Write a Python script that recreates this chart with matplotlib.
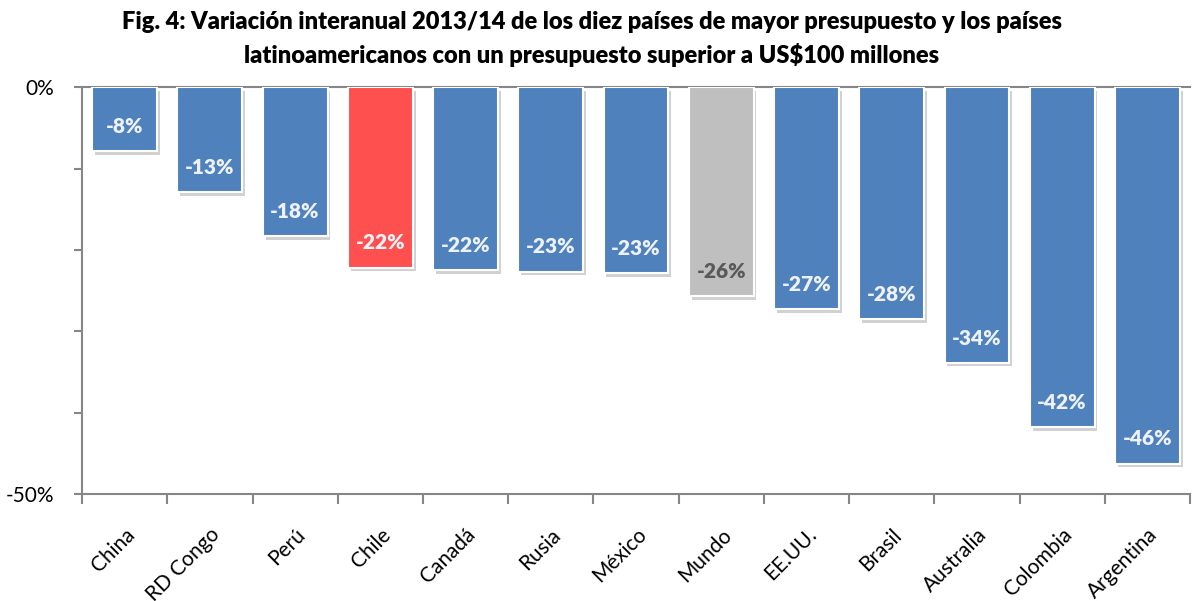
import matplotlib
matplotlib.use("Agg")
from matplotlib import pyplot as plt
import matplotlib.patheffects as pe

plt.rcParams["font.family"] = ["Lato", "DejaVu Sans"]

paises = ["China", "RD Congo", "Perú", "Chile", "Canadá", "Rusia", "México",
          "Mundo", "EE.UU.", "Brasil", "Australia", "Colombia", "Argentina"]
variacion = [-7.9, -12.9, -18.3, -22.2, -22.5, -22.7, -22.9,
             -25.7, -27.3, -28.5, -33.9, -41.8, -46.3]
etiquetas = ["-8%", "-13%", "-18%", "-22%", "-22%", "-23%", "-23%",
             "-26%", "-27%", "-28%", "-34%", "-42%", "-46%"]

colores = []
for p in paises:
    if p == "Chile":
        colores.append("#FF5050")
    elif p == "Mundo":
        colores.append("#BFBFBF")
    else:
        colores.append("#4F81BD")

fig = plt.figure(figsize=(12.03, 6.01), dpi=100)
ax = fig.add_axes([0.0682, 0.178, 0.921, 0.677])

xs = list(range(len(paises)))
bars = ax.bar(xs, variacion, width=0.76, color=colores, edgecolor="white",
              linewidth=1.5, zorder=3)
for b in bars:
    b.set_path_effects([pe.SimplePatchShadow(offset=(2, -2.5), shadow_rgbFace="black", alpha=0.18),
                        pe.Normal()])

for x, v, t, p in zip(xs, variacion, etiquetas, paises):
    c = "#595959" if p == "Mundo" else "#EEF2F8"
    ax.annotate(t, (x, v), xytext=(0, 18), textcoords="offset points",
                ha="center", va="center", fontsize=15, fontweight="heavy",
                color=c, zorder=4)

ax.set_xlim(-0.5, len(paises) - 0.5)
ax.set_ylim(-50, 0)
ax.set_yticks([0, -50])
ax.set_yticklabels(["0%", "-50%"], fontsize=15)
ax.set_yticks([-10, -20, -30, -40], minor=True)
ax.set_xticks([x - 0.5 for x in xs] + [len(paises) - 0.5])
ax.set_xticklabels([])
ax.set_xticks(xs, minor=True)
ax.set_xticklabels(paises, minor=True, rotation=45, ha="right",
                   rotation_mode="anchor", fontsize=15)

ax.tick_params(axis="y", which="both", length=6, color="#868686", width=1.5, pad=14)
ax.tick_params(axis="x", which="major", length=7, color="#868686", width=1.5)
ax.tick_params(axis="x", which="minor", length=0, pad=22)
for s in ["left", "bottom", "top"]:
    ax.spines[s].set_color("#868686")
    ax.spines[s].set_linewidth(1.5)
ax.spines["right"].set_visible(False)

fig.text(0.492, 0.963, "Fig. 4: Variación interanual 2013/14 de los diez países de mayor presupuesto y los países",
         ha="center", va="center", fontsize=17, fontweight="heavy")
fig.text(0.492, 0.908, "latinoamericanos con un presupuesto superior a US$100 millones",
         ha="center", va="center", fontsize=17, fontweight="heavy")

fig.savefig("out.png", dpi=100)
